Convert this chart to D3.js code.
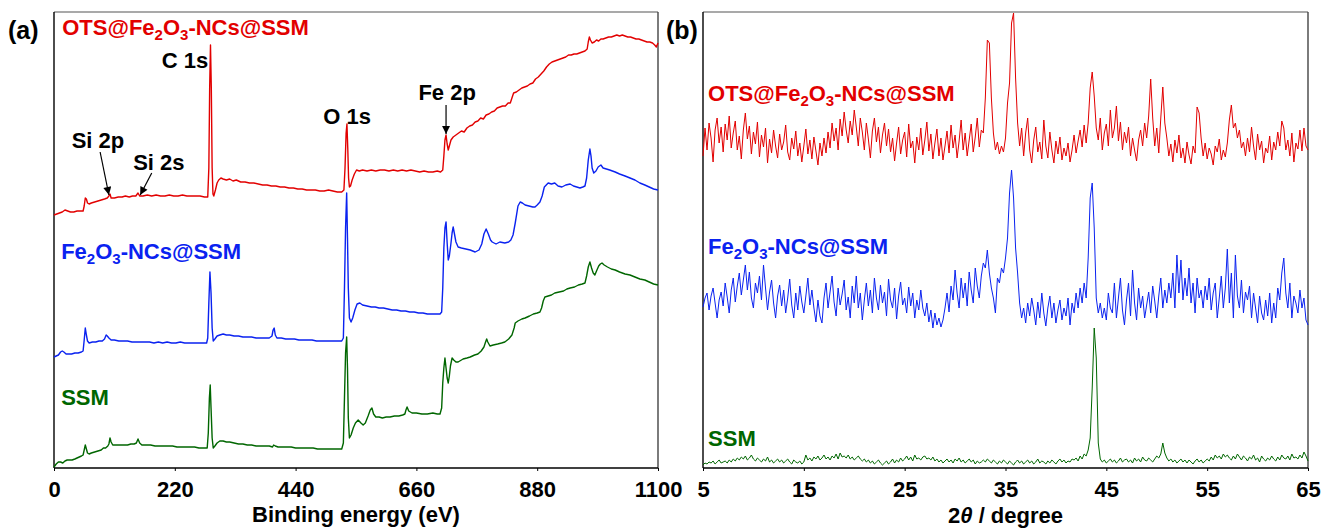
<!DOCTYPE html>
<html>
<head>
<meta charset="utf-8">
<script src="https://cdn.jsdelivr.net/npm/d3@7"></script>
<style>
body{margin:0;background:#fff;}
text{font-family:"Liberation Sans",Arial,sans-serif;font-weight:bold;}
</style>
</head>
<body>
<div id="grafico"></div>
<script>
// ---- data (intensities in arbitrary units, curves already stacked) ----
const xpsTicks = [0,220,440,660,880,1100];
const xrdTicks = [5,15,25,35,45,55,65];

// XPS survey: [binding energy eV, intensity]
const xpsOTS = [[0,253],[5,254],[10,255],[15,256],[20,258],[25,257],[30,256],[36,256],[42,257],[48,257],[53,257],[55,262],[57,270],[59,269],[61,265],[64,264],[68,265],[74,266],[80,267],[86,268],[92,269],[97,270],[100,272],[102,274],[104,270],[110,270],[117,271],[124,271],[130,272],[137,271],[143,272],[149,272],[153,275],[156,272],[162,272],[170,273],[178,272],[186,273],[194,272],[202,272],[210,273],[218,272],[226,272],[234,273],[242,272],[250,272],[258,272],[266,272],[274,271],[280,271],[282,300],[283.5,380],[285,423],[286.5,380],[288,300],[289.5,274],[291,272],[294,278],[297,285],[300,288],[304,290],[308,289],[314,288],[320,289],[326,287],[332,288],[340,286],[348,286],[356,285],[364,285],[372,284],[380,283],[388,283],[396,282],[404,282],[412,281],[420,281],[428,280],[436,280],[444,279],[452,279],[460,278],[468,278],[476,278],[484,277],[492,277],[500,278],[508,277],[516,276],[524,276],[528,278],[530,300],[532,335],[533.5,344],[535,320],[536.5,290],[538,281],[540,282],[543,288],[547,294],[551,298],[556,297],[562,298],[570,297],[578,298],[586,297],[594,298],[602,298],[610,297],[618,298],[626,297],[634,298],[642,297],[650,298],[658,297],[666,296],[674,297],[682,296],[690,296],[698,297],[704,296],[708,298],[710,312],[712,328],[714,333],[716,324],[718,318],[720,322],[723,328],[727,331],[732,333],[737,335],[742,337],[747,336],[752,340],[757,342],[762,343],[767,346],[772,347],[777,350],[782,349],[787,353],[792,354],[797,356],[802,357],[807,360],[812,361],[817,362],[822,362],[827,365],[831,365],[834,370],[837,375],[842,376],[847,378],[852,380],[857,381],[862,382],[867,384],[872,385],[877,389],[882,391],[887,394],[892,397],[897,401],[902,404],[907,406],[912,407],[917,408],[922,409],[927,410],[932,411],[937,413],[942,413],[947,414],[952,414],[957,415],[962,416],[967,417],[971,419],[973,426],[975,431],[977,428],[980,425],[984,426],[988,428],[992,427],[996,429],[1000,429],[1005,430],[1010,431],[1015,431],[1020,432],[1025,433],[1030,432],[1035,433],[1040,432],[1045,431],[1050,431],[1055,430],[1060,429],[1065,429],[1070,428],[1075,427],[1080,426],[1085,426],[1090,425],[1094,423],[1097,421],[1100,425]];

const xpsFe2O3 = [[0,111],[4,112],[8,113],[12,116],[15,117],[18,116],[22,114],[27,114],[32,114],[38,115],[44,115],[50,116],[53,117],[55,128],[57,140],[59,133],[61,127],[64,125],[70,126],[76,126],[82,127],[88,127],[92,129],[95,133],[97,132],[100,130],[104,128],[110,128],[118,127],[126,127],[134,127],[142,126],[150,126],[158,126],[166,126],[174,126],[182,125],[190,126],[198,125],[206,126],[214,125],[222,125],[230,126],[238,125],[246,125],[254,125],[262,125],[270,125],[278,125],[280,130],[282,165],[284,196],[286,175],[288,140],[290,127],[293,129],[297,132],[302,133],[308,134],[314,133],[320,133],[328,132],[336,132],[344,131],[352,131],[360,131],[368,130],[376,130],[384,130],[392,130],[397,132],[399,138],[401,140],[403,133],[406,130],[414,130],[422,129],[430,129],[438,129],[446,128],[454,128],[462,128],[470,128],[478,127],[486,127],[494,127],[502,127],[510,127],[518,127],[524,127],[527,130],[529,180],[531,240],[533,275],[534.5,230],[536,180],[538,150],[541,146],[544,150],[548,158],[552,164],[557,165],[562,163],[570,162],[578,161],[585,161],[592,160],[600,160],[608,159],[616,158],[624,158],[632,157],[640,157],[648,156],[656,156],[664,155],[672,155],[680,154],[688,154],[696,154],[703,154],[706,156],[708,180],[710,220],[712,240],[714,246],[716,225],[718,208],[720,212],[723,225],[725,235],[727,241],[729,235],[732,226],[736,221],[742,220],[750,219],[758,218],[767,216],[774,218],[779,224],[783,234],[787,239],[791,234],[795,228],[798,226],[805,224],[812,226],[821,225],[828,226],[832,228],[836,233],[840,245],[845,262],[849,266],[853,265],[858,263],[865,262],[872,261],[876,261],[880,263],[885,266],[889,272],[893,281],[900,285],[906,284],[912,285],[918,282],[925,281],[932,283],[940,284],[946,282],[952,281],[958,280],[963,281],[967,282],[970,290],[973,308],[976,319],[978,312],[980,300],[983,295],[987,297],[991,301],[996,303],[1000,300],[1006,299],[1012,298],[1017,297],[1022,296],[1030,294],[1040,292],[1049,290],[1058,288],[1067,285],[1076,283],[1084,281],[1092,279],[1100,278]];

const xpsSSM = [[0,1],[4,4],[8,6],[12,6],[16,5],[20,7],[24,8],[28,8],[33,8],[38,9],[42,10],[46,11],[50,12],[53,13],[55,18],[57,23],[59,19],[61,15],[64,14],[68,15],[74,16],[80,17],[86,18],[90,20],[94,20],[98,22],[100,24],[102,30],[104,26],[107,23],[113,23],[120,23],[127,23],[134,23],[140,24],[146,24],[150,25],[153,29],[156,25],[160,23],[168,23],[176,23],[184,22],[192,22],[200,22],[208,22],[216,22],[224,21],[232,21],[240,21],[248,21],[256,21],[264,20],[272,20],[279,20],[281,35],[283,70],[284.5,83],[286,60],[288,30],[290,20],[293,22],[297,25],[302,27],[308,27],[314,26],[320,26],[328,25],[336,24],[344,24],[352,23],[360,23],[368,22],[376,22],[384,22],[392,22],[398,21],[400,23],[403,22],[408,21],[416,21],[424,21],[432,21],[440,20],[448,20],[456,20],[464,20],[472,20],[480,19],[488,19],[496,19],[504,19],[512,19],[520,19],[524,19],[527,25],[529,70],[531,115],[533,131],[534.5,100],[536,50],[538,30],[541,33],[545,40],[549,45],[554,48],[559,45],[563,43],[567,45],[572,52],[576,58],[579,60],[582,54],[586,51],[592,51],[598,50],[605,51],[612,51],[620,52],[628,52],[635,53],[639,54],[641,58],[643,61],[646,57],[652,55],[660,55],[670,54],[680,54],[690,55],[698,54],[703,54],[706,60],[708,85],[710,100],[712,110],[714,100],[716,90],[718,85],[720,92],[722,102],[725,110],[728,108],[732,106],[736,106],[745,109],[752,110],[758,111],[766,113],[772,114],[778,117],[783,121],[786,126],[788,129],[790,126],[794,122],[800,123],[808,124],[815,125],[821,126],[828,129],[834,133],[838,140],[840,145],[845,147],[852,149],[858,150],[866,152],[873,154],[880,155],[885,156],[888,160],[891,167],[894,171],[900,172],[906,173],[912,175],[920,176],[928,177],[934,179],[940,180],[948,181],[955,183],[962,184],[967,185],[970,192],[973,201],[976,206],[979,200],[982,195],[985,193],[988,197],[992,202],[995,204],[998,205],[1002,203],[1008,201],[1015,199],[1022,198],[1030,196],[1040,194],[1049,193],[1058,191],[1067,189],[1076,188],[1084,186],[1092,184],[1100,183]];

// XRD scan: 5 to 65 deg, step 0.2 deg
const xrdStart = 5, xrdStep = 0.2;
const xrdOTS = [
312,340,318,345,330,306,338,350,325,341,
316,344,328,352,320,335,347,318,332,309,
338,355,329,342,314,336,324,346,311,333,
321,340,305,329,315,338,322,310,334,318,
326,343,316,308,330,319,337,312,325,306,
322,339,314,328,309,331,317,303,325,312,
330,315,336,320,345,327,340,318,349,332,
356,338,325,347,333,358,341,322,350,336,
318,345,329,310,337,350,326,341,315,333,
345,322,339,316,330,307,325,341,314,328,
336,311,344,320,327,305,331,318,340,313,
328,346,317,334,309,325,339,312,330,308,
322,337,315,343,320,333,310,327,348,318,
335,312,328,344,316,331,350,321,338,335,
370,428,425,370,335,318,326,314,322,316,
330,365,385,445,455,390,345,322,340,312,
335,350,318,305,328,341,316,326,309,348,
322,310,336,318,305,327,314,331,308,320,
312,325,306,318,333,315,327,338,321,343,
325,345,380,396,372,340,328,350,318,335,
344,322,358,330,340,362,327,346,318,336,
325,341,312,330,318,307,328,338,322,345,
330,352,389,350,322,340,315,350,381,345,
330,312,324,306,328,315,333,310,320,305,
326,313,304,322,315,361,355,330,312,325,
309,320,314,303,322,316,329,308,318,311,
325,348,363,340,345,330,338,320,326,312,
330,316,341,322,308,334,318,327,305,320,
315,332,308,326,318,336,322,347,340,318,
328,312,335,306,325,319,338,317,340,322,
318];
const xrdFe2O3 = [
161,170,175,158,172,180,165,150,168,176,
162,185,171,155,178,190,166,182,195,173,
188,203,178,196,170,160,185,175,192,168,
203,180,158,176,188,165,150,172,183,162,
178,155,170,189,163,150,175,158,182,166,
155,172,190,163,178,160,146,168,152,145,
170,185,160,176,192,166,152,180,163,174,
188,158,171,150,182,165,192,160,175,148,
168,185,162,178,155,190,170,158,183,165,
176,152,189,168,160,180,149,172,186,163,
170,155,181,162,175,150,168,158,178,160,
152,165,146,158,140,155,143,150,141,148,
160,175,156,182,168,198,175,160,190,170,
185,162,196,178,165,200,182,170,192,205,
200,218,195,180,170,155,190,185,200,195,
210,230,275,298,270,220,195,165,150,160,
145,165,152,170,158,143,166,150,175,155,
142,160,172,150,165,145,158,168,148,160,
152,170,143,165,155,175,160,180,165,185,
170,210,270,285,240,170,155,165,150,160,
148,175,160,155,185,150,170,190,158,143,
168,185,152,198,165,148,180,160,172,150,
163,176,155,182,167,150,172,190,160,178,
165,185,170,195,160,213,175,208,168,190,
172,200,165,185,155,190,170,178,160,182,
168,190,158,175,185,150,170,192,160,180,
219,165,195,150,213,172,160,188,155,176,
168,182,150,175,160,145,172,155,148,168,
152,175,145,165,150,180,168,195,210,175,
160,185,150,172,165,155,178,160,170,148,
143];
const xrdSSM = [
3,5,4,6,5,7,4,6,8,5,
6,7,5,8,6,9,7,10,8,11,
9,12,8,10,13,9,7,10,8,6,
9,7,11,6,8,5,7,9,6,8,
5,7,9,6,4,8,6,5,7,4,
6,13,8,10,7,11,9,12,8,10,
13,9,11,8,12,10,14,9,15,11,
12,10,13,9,11,8,10,12,9,7,
9,6,8,5,7,4,6,8,5,3,
5,7,4,6,9,5,8,6,10,7,
9,12,8,11,7,13,9,10,8,11,
12,9,10,8,11,7,9,6,8,5,
7,9,6,8,5,9,7,10,6,8,
5,7,9,6,8,4,7,5,6,8,
6,9,7,5,8,6,4,7,5,8,
6,4,7,5,3,6,8,5,7,4,
6,8,5,7,4,6,9,5,7,6,
4,7,5,8,6,4,7,9,6,8,
5,7,6,9,8,10,7,12,9,14,
12,18,30,80,140,110,25,9,6,8,
5,7,9,6,8,5,7,10,6,8,
9,6,8,5,10,7,9,6,11,8,
7,10,8,6,9,12,10,14,25,15,
10,7,9,6,8,5,7,9,6,8,
5,8,6,4,7,9,6,8,5,7,
9,7,11,8,13,10,12,9,14,11,
13,10,8,12,9,14,11,8,12,10,
7,11,9,13,8,10,6,12,9,7,
10,8,12,9,7,11,8,13,10,9,
12,8,14,10,11,9,13,10,16,12,
7];

// sample names, subscripts as [text]
const nameOTS = ["OTS@Fe",["2"],"O",["3"],"-NCs@SSM"];
const nameFe2O3 = ["Fe",["2"],"O",["3"],"-NCs@SSM"];
const nameSSM = ["SSM"];

const RED = "#e20000", BLUE = "#0a22f0", GREEN = "#006600";

// ---- layout ----
const WIDTH = 1322, HEIGHT = 529;
const TOP = 12, BOTTOM = 468;

let svg = d3.select("#grafico")
    .append("svg")
    .attr("width",WIDTH)
    .attr("height",HEIGHT);

let y = d3.scaleLinear().domain([0,456]).range([BOTTOM,TOP]);
let xA = d3.scaleLinear().domain([0,1100]).range([54,658]);
let xB = d3.scaleLinear().domain([5,65]).range([703,1308]);

svg.append("defs").append("marker")
    .attr("id","head")
    .attr("viewBox","0 0 10 10")
    .attr("refX",10).attr("refY",5)
    .attr("markerWidth",10).attr("markerHeight",8)
    .attr("markerUnits","userSpaceOnUse")
    .attr("orient","auto")
    .append("path").attr("d","M0,0L10,5L0,10z").attr("fill","#000");

function frame(x){
    let [x0,x1] = x.range();
    svg.append("line").attr("x1",x0).attr("x2",x1).attr("y1",TOP).attr("y2",TOP)
        .attr("stroke","#555").attr("stroke-width",1.2);
    svg.append("line").attr("x1",x1).attr("x2",x1).attr("y1",TOP).attr("y2",BOTTOM)
        .attr("stroke","#444").attr("stroke-width",1.4);
    svg.append("line").attr("x1",x0).attr("x2",x0).attr("y1",TOP).attr("y2",BOTTOM)
        .attr("stroke","#000").attr("stroke-width",1.4);
    svg.append("line").attr("x1",x0).attr("x2",x1).attr("y1",BOTTOM).attr("y2",BOTTOM)
        .attr("stroke","#000").attr("stroke-width",1.4);
}

function axis(x, ticks){
    svg.append("g")
        .attr("transform",`translate(0,${BOTTOM})`)
        .call(d3.axisBottom(x).tickValues(ticks).tickFormat(d3.format("d"))
            .tickSize(3).tickSizeOuter(0))
        .call(g=>{
            g.select(".domain").remove();
            g.selectAll("line").attr("stroke","#000");
            g.selectAll("text").attr("y",29).attr("dy",0)
                .attr("fill","#000").style("font-size","22px");
        });
}

function label(x, yy, parts, color, size){
    size = size || 22;
    let t = svg.append("text").attr("x",x).attr("y",yy)
        .attr("fill",color).style("font-size",size+"px");
    let shifted = false;
    parts.forEach(p=>{
        if(typeof p === "string"){
            t.append("tspan").attr("dy",shifted ? -5 : 0).text(p);
            shifted = false;
        } else {
            t.append("tspan").attr("dy",shifted ? 0 : 5)
                .style("font-size",Math.round(size*0.7)+"px").text(p[0]);
            shifted = true;
        }
    });
    return t;
}

function curve(x, data, color, width){
    let line = d3.line().x(d=>x(d[0])).y(d=>y(d[1]));
    svg.append("path").datum(data)
        .attr("d",line)
        .attr("fill","none")
        .attr("stroke",color)
        .attr("stroke-width",width)
        .attr("stroke-linejoin","round");
}

function scan(values){
    return values.map((v,i)=>[xrdStart + i*xrdStep, v]);
}

// ---- panel (a): XPS ----
frame(xA);
axis(xA, xpsTicks);
curve(xA, xpsSSM, GREEN, 1.4);
curve(xA, xpsFe2O3, BLUE, 1.4);
curve(xA, xpsOTS, RED, 1.4);

label(xA(15), y(433), nameOTS, RED);
label(xA(13), y(209), nameFe2O3, BLUE);
label(xA(13), y(63), nameSSM, GREEN);

// peak annotations (eV, intensity)
let peaks = [
    {name:"C 1s", at:[281,400], anchor:"end"},
    {name:"O 1s", at:[534,344], anchor:"middle"},
    {name:"Fe 2p", at:[716,368], anchor:"middle", arrow:[[714,363],[714,334]]},
    {name:"Si 2p", at:[80,320], anchor:"middle", arrow:[[84,316],[100,273]]},
    {name:"Si 2s", at:[191,298], anchor:"middle", arrow:[[178,295],[157,273]]}
];
peaks.forEach(p=>{
    svg.append("text").attr("x",xA(p.at[0])).attr("y",y(p.at[1]))
        .attr("text-anchor",p.anchor).style("font-size","22px")
        .attr("fill","#000").text(p.name);
    if(p.arrow){
        svg.append("line")
            .attr("x1",xA(p.arrow[0][0])).attr("y1",y(p.arrow[0][1]))
            .attr("x2",xA(p.arrow[1][0])).attr("y2",y(p.arrow[1][1]))
            .attr("stroke","#000").attr("stroke-width",1.2)
            .attr("marker-end","url(#head)");
    }
});

svg.append("text").attr("x",(xA.range()[0]+xA.range()[1])/2).attr("y",522)
    .attr("text-anchor","middle").style("font-size","22px").text("Binding energy (eV)");
svg.append("text").attr("x",8).attr("y",39).style("font-size","25px").text("(a)");

// ---- panel (b): XRD ----
frame(xB);
axis(xB, xrdTicks);
curve(xB, scan(xrdSSM), GREEN, 1);
curve(xB, scan(xrdFe2O3), BLUE, 1);
curve(xB, scan(xrdOTS), RED, 1);

label(xB(5.5), y(367), nameOTS, RED);
label(xB(5.5), y(214), nameFe2O3, BLUE);
label(xB(5.5), y(22), nameSSM, GREEN);

let xt = svg.append("text").attr("x",(xB.range()[0]+xB.range()[1])/2).attr("y",523)
    .attr("text-anchor","middle").style("font-size","22px");
xt.append("tspan").text("2");
xt.append("tspan").style("font-style","italic").text("\u03B8");
xt.append("tspan").text(" / degree");
svg.append("text").attr("x",666).attr("y",39).style("font-size","25px").text("(b)");
</script>
</body>
</html>
